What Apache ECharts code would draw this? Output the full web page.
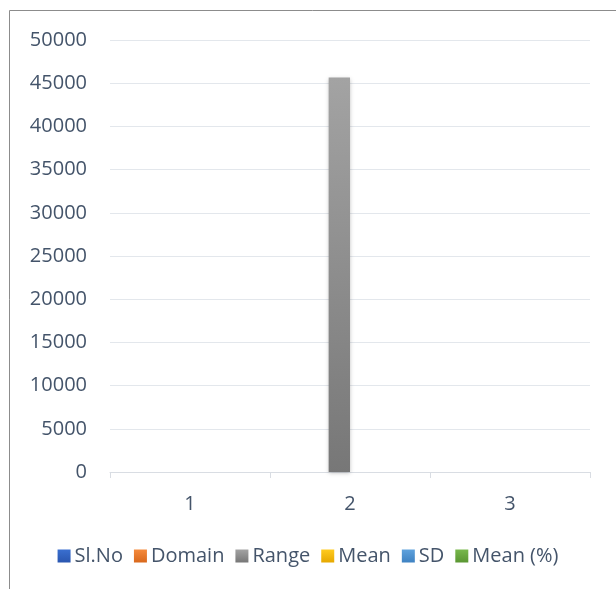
<!DOCTYPE html>
<html>
<head>
<meta charset="utf-8">
<script src="https://cdn.jsdelivr.net/npm/echarts@6/dist/echarts.min.js"></script>
<style>
  html, body { margin: 0; padding: 0; background: #fff; }
  #chart { width: 616px; height: 589px; }
</style>
</head>
<body>
<div id="chart"></div>
<script>
const categories = ['1', '2', '3']
const seriesNames = ['Sl.No', 'Domain', 'Range', 'Mean', 'SD', 'Mean (%)']
const slNo = [1, 2, 3]
const domain = [0, 0, 0]
const range = [0, 45650, 0]
const mean = [0, 0, 0]
const sd = [0, 0, 0]
const meanPct = [0, 0, 0]
const yTicks = [0, 50000, 5000] // min, max, interval

const seriesData = [slNo, domain, range, mean, sd, meanPct]
const colors = [
  ['#3a6fd0', '#2a56b0'],
  ['#f58a3c', '#d9681c'],
  ['#a3a3a3', '#777777'],
  ['#ffcb1f', '#e6a800'],
  ['#5fa2dd', '#3f82c2'],
  ['#78b84c', '#5a9632'],
]

const chart = echarts.init(document.getElementById('chart'))

chart.setOption({
  animation: false,
  textStyle: { fontFamily: 'Open Sans', color: '#595959' },
  graphic: [
    { type: 'line', shape: { x1: 9.5, y1: 10.5, x2: 616, y2: 10.5 }, style: { stroke: '#8c8c8c', lineWidth: 1 } },
    { type: 'line', shape: { x1: 9.5, y1: 10.5, x2: 9.5, y2: 589 }, style: { stroke: '#8c8c8c', lineWidth: 1 } },
  ],
  grid: { left: 110, right: 26, top: 40, bottom: 117 },
  legend: {
    data: seriesNames,
    left: 'center',
    top: 541,
    itemWidth: 13,
    itemHeight: 13,
    itemGap: 11,
    icon: 'rect',
    textStyle: { fontSize: 20, color: '#44546a', fontFamily: 'Open Sans', padding: [0, 0, 0, -1] },
  },
  xAxis: {
    type: 'category',
    data: categories,
    axisLine: { lineStyle: { color: '#d9dde3', width: 1 } },
    axisTick: { show: true, length: 6, lineStyle: { color: '#d9dde3' } },
    axisLabel: { fontSize: 20, color: '#44546a', margin: 22 },
  },
  yAxis: {
    type: 'value',
    min: yTicks[0],
    max: yTicks[1],
    interval: yTicks[2],
    axisLine: { show: false },
    axisTick: { show: false },
    splitLine: { lineStyle: { color: '#e3e7ec', width: 1 } },
    axisLabel: { fontSize: 20, color: '#44546a', margin: 23, formatter: (v) => String(v) },
  },
  series: seriesNames.map((name, i) => ({
    name,
    type: 'bar',
    data: seriesData[i],
    barGap: '0%',
    barCategoryGap: '20%',
    itemStyle: {
      color: new echarts.graphic.LinearGradient(0, 0, 0, 1, [
        { offset: 0, color: colors[i][0] },
        { offset: 1, color: colors[i][1] },
      ]),
      shadowBlur: 4,
      shadowColor: 'rgba(0,0,0,0.25)',
      shadowOffsetX: 0,
      shadowOffsetY: 1,
    },
  })),
})
</script>
</body>
</html>
